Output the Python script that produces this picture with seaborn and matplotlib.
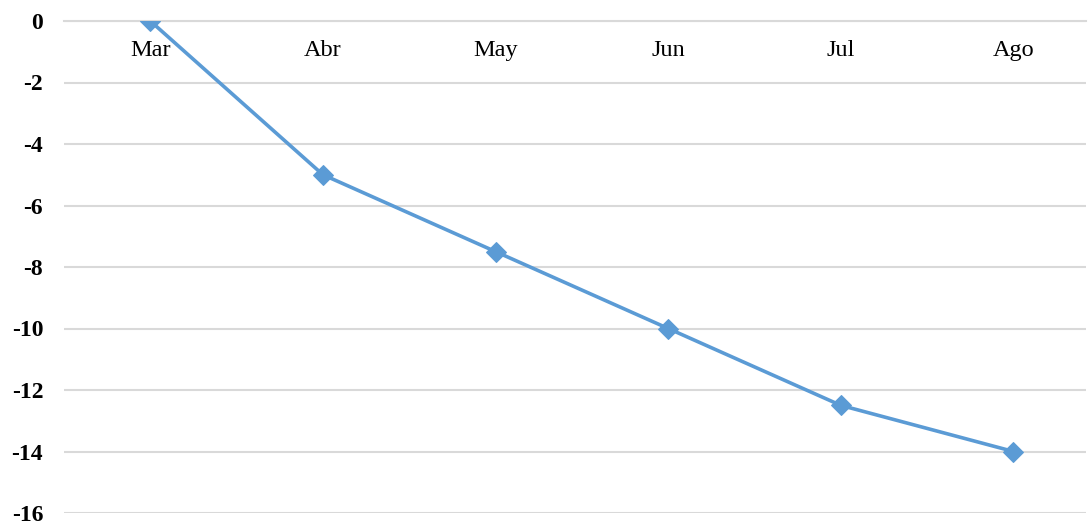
import matplotlib
matplotlib.use("Agg")
import matplotlib.pyplot as plt
import seaborn as sns
import pandas as pd

months = ["Mar", "Abr", "May", "Jun", "Jul", "Ago"]
values = [0, -5, -7.5, -10, -12.5, -14]
y_ticks = [0, -2, -4, -6, -8, -10, -12, -14, -16]

sns.set_theme(style="white")
plt.rcParams["font.family"] = ["Liberation Serif", "DejaVu Serif"]

df = pd.DataFrame({"mes": months, "valor": values})

fig = plt.figure(figsize=(10.88, 5.26), dpi=100)
ax = fig.add_axes([64 / 1088, 13 / 526, (1086 - 64) / 1088, (513 - 21) / 526])

sns.lineplot(data=df, x="mes", y="valor", sort=False, ax=ax,
             color="#5B9BD5", linewidth=2.6, marker="D", markersize=10.5,
             markeredgecolor="#5B9BD5", zorder=3)

ax.set_ylim(-16, 0)
ax.set_xlim(-0.5, 5.42)
ax.set_yticks(y_ticks)
ax.set_yticklabels([str(v) for v in y_ticks], fontsize=17, fontweight="bold")
ax.yaxis.grid(True, color="#d9d9d9", linewidth=1.5)
ax.set_axisbelow(True)

for s in ["left", "right", "top"]:
    ax.spines[s].set_visible(False)
ax.spines["bottom"].set_position(("data", 0))
ax.spines["bottom"].set_color("#d9d9d9")
ax.spines["bottom"].set_linewidth(1.5)

ax.tick_params(axis="x", length=0, pad=14, labelsize=17.5, colors="black")
ax.tick_params(axis="y", length=0, pad=15, colors="black")
ax.set_xlabel("")
ax.set_ylabel("")

fig.savefig("out.png", dpi=100)
